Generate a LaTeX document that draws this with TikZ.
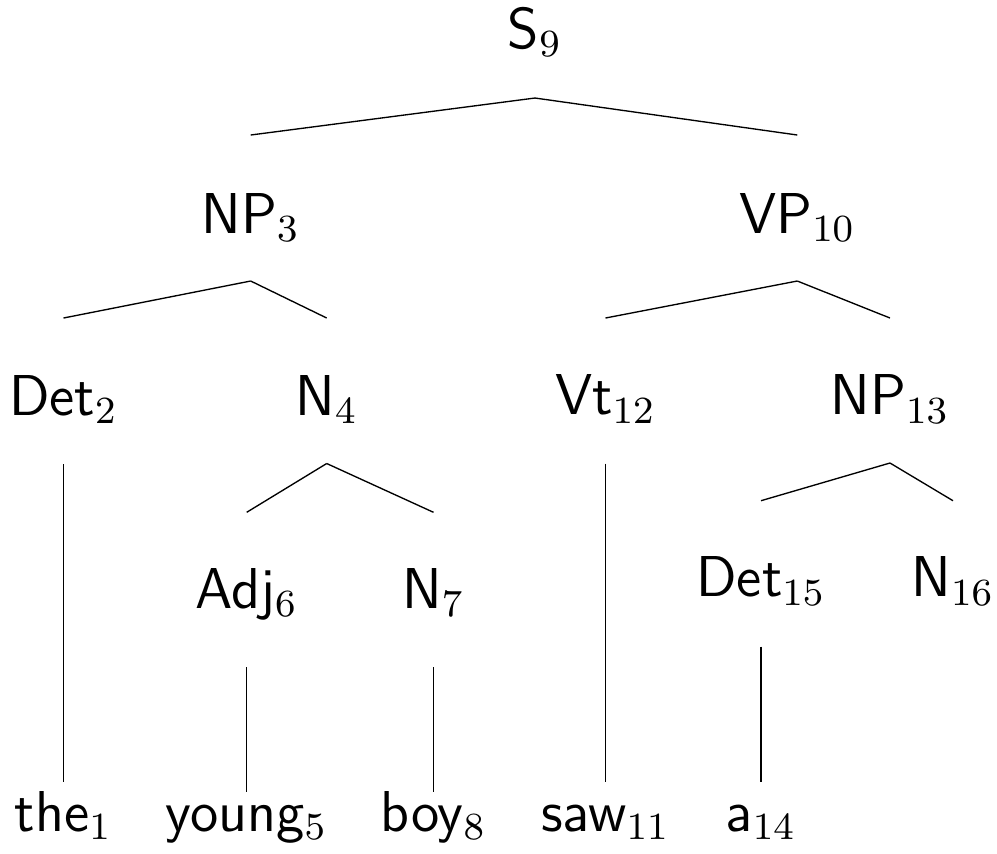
\documentclass[12pt,tikz,border=0pt]{standalone}
\usetikzlibrary{calc}
\tikzset{
    cat/.style={
        ,   anchor=base
        ,   inner sep=0pt
        ,   font=\sffamily
    },
    branch/.style={
        ,   line width=0.28pt
        ,   draw=black
    }
}
\begin{document}
\begin{tikzpicture}[x=0.2082pt, y=-0.2082pt]
\useasboundingbox (0,0) rectangle (997,853);

\node[cat] (s9) at (535,48) {S$_9$};
\node[cat] (np3) at (250.7,233) {NP$_3$};
\node[cat] (vp10) at (797.3,233) {VP$_{10}$};

\node[cat] (det2) at (63.5,415) {Det$_2$};
\node[cat] (n4) at (326.7,415) {N$_4$};
\node[cat] (vt12) at (605.5,414.5) {Vt$_{12}$};
\node[cat] (np13) at (890,414.5) {NP$_{13}$};

\node[cat] (adj6) at (246.7,608.3) {Adj$_6$};
\node[cat] (n7) at (433.5,608.3) {N$_7$};
\node[cat] (det15) at (761,596.7) {Det$_{15}$};
\node[cat] (n16) at (953,596.7) {N$_{16}$};

% words
\node[cat] (the1) at (63.5,831) {the$_1$};
\node[cat] (young5) at (246.7,831) {young$_5$};
\node[cat] (boy8) at (433.5,831) {boy$_8$};
\node[cat] (saw11) at (605.5,831) {saw$_{11}$};
\node[cat] (a14) at (761,831) {a$_{14}$};

\foreach \c in {np3,vp10}{
  \draw[branch] ($(s9.base)+(0,50)$) -- ($(\c.base)-(0,98)$);
}
\foreach \c in {det2,n4}{
  \draw[branch] ($(np3.base)+(0,48)$) -- ($(\c.base)-(0,97)$);
}
\foreach \c in {vt12,np13}{
  \draw[branch] ($(vp10.base)+(0,48)$) -- ($(\c.base)-(0,96.5)$);
}
\foreach \c in {adj6,n7}{
  \draw[branch] ($(n4.base)+(0,48.5)$) -- ($(\c.base)-(0,96)$);
}
\foreach \c in {det15,n16}{
  \draw[branch] ($(np13.base)+(0,48.5)$) -- ($(\c.base)-(0,96)$);
}

% down to the words
\draw[branch] ($(det2.base)+(0,49)$) -- ($(the1.base)-(0,49)$);
\draw[branch] ($(vt12.base)+(0,49)$) -- ($(saw11.base)-(0,49)$);
\draw[branch] ($(det15.base)+(0,50)$) -- ($(a14.base)-(0,49)$);
\draw[branch] ($(adj6.base)+(0,59)$) -- ($(young5.base)-(0,39)$);
\draw[branch] ($(n7.base)+(0,59)$) -- ($(boy8.base)-(0,39)$);
\end{tikzpicture}
\end{document}
